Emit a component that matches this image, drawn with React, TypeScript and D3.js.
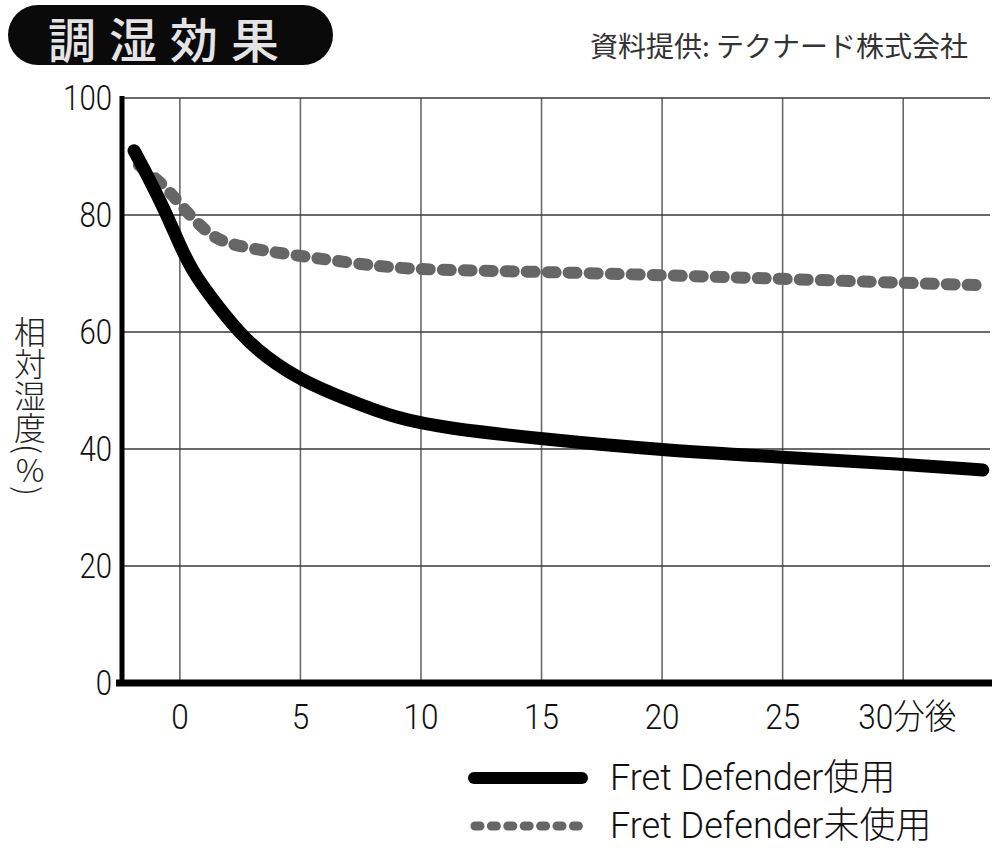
import React from "react";
import * as d3 from "d3";

const title = "調湿効果";
const source = "資料提供: テクナード株式会社";
const yAxisLabelMain = "相対湿度(";
const yAxisLabelPct = "%";
const yAxisLabelEnd = ")";
const yTicks = [0, 20, 40, 60, 80, 100];
const xTicks = [0, 5, 10, 15, 20, 25, 30];
const xTickLabels = ["0", "5", "10", "15", "20", "25", "30分後"];
const seriesNames = ["Fret Defender使用", "Fret Defender未使用"];

const withDefender: [number, number][] = [
  [-1.9, 91], [-1.3, 86.4], [-0.6, 80.6], [0, 74.8], [0.5, 70.6], [1.2, 66.4], [2.5, 59.6],
  [3.6, 55.6], [5, 51.8], [7, 48.3], [9, 45.2], [11, 43.6], [15, 41.7], [20, 39.8],
  [25, 38.6], [30, 37.4], [33.3, 36.4],
];
const withoutDefender: [number, number][] = [
  [-1.7, 88.5], [-0.7, 85.4], [0.4, 79.9], [1.2, 76.8], [1.9, 75.1], [3.6, 73.8],
  [5.7, 72.6], [8.4, 71.1], [10.5, 70.6], [15, 70.3], [20, 69.7], [25, 69.1],
  [30, 68.4], [33.2, 68.0],
];

const W = 1000;
const H = 850;
const plot = { left: 122, right: 990, top: 98, bottom: 683 };

const NUM_FONT = "Roboto, 'Noto Sans CJK JP', sans-serif";
const JP_FONT = "'Noto Sans CJK JP', sans-serif";

export default function App() {
  const x = d3.scaleLinear().domain([-2.4, 33.6]).range([plot.left, plot.right]);
  const y = d3.scaleLinear().domain([0, 100]).range([plot.bottom, plot.top]);
  const line = d3
    .line<[number, number]>()
    .x((d) => x(d[0]))
    .y((d) => y(d[1]))
    .curve(d3.curveBasis);

  return (
    <svg
      width={W}
      height={H}
      viewBox={`0 0 ${W} ${H}`}
      style={{ position: "absolute", left: 0, top: 0, background: "#fff" }}
    >
      {/* Title badge */}
      <rect x={8} y={5} width={325} height={60} rx={30} ry={30} fill="#0a0a0a" />
      <text
        x={170}
        y={37}
        textAnchor="middle"
        dominantBaseline="central"
        fill="#e4e4e4"
        fontFamily={JP_FONT}
        fontWeight={500}
        fontSize={48}
        letterSpacing={13}
      >
        {title}
      </text>
      {/* Source */}
      <text
        x={968}
        y={45}
        textAnchor="end"
        dominantBaseline="central"
        fill="#333"
        fontFamily={JP_FONT}
        fontSize={28}
        letterSpacing={0}
      >
        {source}
      </text>

      {/* Vertical grid */}
      {xTicks.map((t) => (
        <line
          key={"vx" + t}
          x1={x(t)}
          x2={x(t)}
          y1={plot.top}
          y2={plot.bottom}
          stroke="#6a6a6a"
          strokeWidth={1.6}
        />
      ))}
      {/* Horizontal grid */}
      {yTicks.filter((t) => t > 0).map((t) => (
        <line
          key={"hy" + t}
          x1={plot.left}
          x2={plot.right}
          y1={y(t)}
          y2={y(t)}
          stroke="#3a3a3a"
          strokeWidth={1.6}
        />
      ))}

      {/* Series */}
      <path
        d={line(withoutDefender) || ""}
        fill="none"
        stroke="#666"
        strokeWidth={12}
        strokeLinecap="round"
        strokeDasharray="8 13"
      />
      <path
        d={line(withDefender) || ""}
        fill="none"
        stroke="#000"
        strokeWidth={13}
        strokeLinecap="round"
        strokeLinejoin="round"
      />

      {/* Axes */}
      <line x1={plot.left} x2={plot.left} y1={plot.top - 2} y2={plot.bottom + 3} stroke="#000" strokeWidth={5} />
      <line x1={plot.left - 6} x2={plot.right + 2} y1={plot.bottom} y2={plot.bottom} stroke="#000" strokeWidth={7} />

      {/* Y tick labels */}
      {yTicks.map((t) => (
        <text
          key={"yl" + t}
          transform={`translate(${plot.left - 10},${y(t)}) scale(0.84,1)`}
          textAnchor="end"
          dominantBaseline="central"
          fontFamily={NUM_FONT}
          fontWeight={300}
          fontSize={35}
          fill="#111"
        >
          {t}
        </text>
      ))}
      {/* X tick labels */}
      {xTicks.map((t, i) => (
        <text
          key={"xl" + t}
          transform={`translate(${x(t) + (i === xTicks.length - 1 ? 4 : 0)},717) scale(0.9,1)`}
          textAnchor="middle"
          dominantBaseline="central"
          fontFamily={NUM_FONT}
          fontWeight={300}
          fontSize={35}
          fill="#111"
        >
          {xTickLabels[i]}
        </text>
      ))}

      {/* Y axis label (vertical) */}
      <text
        x={30}
        y={316}
        fontFamily={JP_FONT}
        fontSize={32}
        fontWeight={300}
        fill="#222"
        style={{ writingMode: "vertical-rl", textOrientation: "mixed" } as React.CSSProperties}
      >
        {yAxisLabelMain}
        <tspan
          style={{ textOrientation: "upright", textCombineUpright: "all" } as React.CSSProperties}
        >
          {yAxisLabelPct}
        </tspan>
        {yAxisLabelEnd}
      </text>

      {/* Legend */}
      <line x1={474} x2={582} y1={778} y2={778} stroke="#000" strokeWidth={12} strokeLinecap="round" />
      <text
        x={610}
        y={778}
        dominantBaseline="central"
        fontFamily={NUM_FONT}
        fontWeight={300}
        fontSize={36}
        fill="#111"
      >
        {seriesNames[0]}
      </text>
      <line
        x1={475}
        x2={583}
        y1={826}
        y2={826}
        stroke="#666"
        strokeWidth={9}
        strokeLinecap="round"
        strokeDasharray="5 11.4"
      />
      <text
        x={610}
        y={826}
        dominantBaseline="central"
        fontFamily={NUM_FONT}
        fontWeight={300}
        fontSize={36}
        fill="#111"
      >
        {seriesNames[1]}
      </text>
    </svg>
  );
}
